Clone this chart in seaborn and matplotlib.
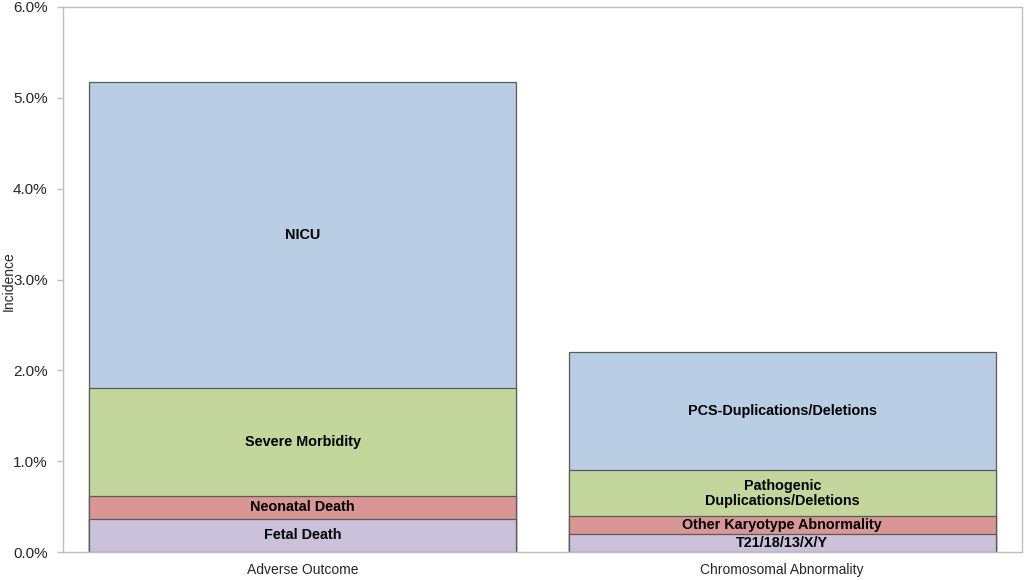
import numpy as np
import pandas as pd
import matplotlib
matplotlib.use("Agg")
import matplotlib.pyplot as plt
from matplotlib.ticker import PercentFormatter, MultipleLocator, FixedLocator
import seaborn as sns

# values (percent)
categories = ["Adverse Outcome", "Chromosomal Abnormality"]
adverse_parts = ["Fetal Death", "Neonatal Death", "Severe Morbidity", "NICU"]
adverse_vals = [0.37, 0.25, 1.19, 3.36]
chromo_parts = ["T21/18/13/X/Y", "Other Karyotype Abnormality",
                "Pathogenic\nDuplications/Deletions", "PCS-Duplications/Deletions"]
chromo_vals = [0.20, 0.20, 0.50, 1.30]

colors = ["#CCC1DA", "#D99694", "#C3D69B", "#B9CDE5"]

sns.set_style("white")
plt.rcParams["font.family"] = ["Liberation Sans", "DejaVu Sans"]

#%%

fig = plt.figure(figsize=(10.24, 5.8), dpi=100)
ax = fig.add_axes([0.0615, 0.048, 0.9365, 0.94])

cum_a = np.cumsum(adverse_vals)
cum_c = np.cumsum(chromo_vals)

# draw tallest stack first, then overlay the lower ones
for i in range(3, -1, -1):
    df = pd.DataFrame({"cat": categories, "val": [cum_a[i], cum_c[i]]})
    sns.barplot(data=df, x="cat", y="val", color=colors[i], width=0.89,
                edgecolor="#5a5a5a", linewidth=0.9, saturation=1, ax=ax)

# segment labels
for xi, (parts, vals, cum) in enumerate([(adverse_parts, adverse_vals, cum_a),
                                         (chromo_parts, chromo_vals, cum_c)]):
    for name, v, c in zip(parts, vals, cum):
        ax.text(xi, c - v / 2, name, ha="center", va="center",
                fontsize=10.4, fontweight="bold", color="black",
                linespacing=1.1)

ax.set_ylim(0, 6)
ax.set_xlim(-0.5, 1.5)
ax.yaxis.set_major_locator(MultipleLocator(1))
ax.yaxis.set_major_formatter(PercentFormatter(decimals=1))
ax.xaxis.set_minor_locator(FixedLocator([-0.5, 0.5, 1.5]))
ax.tick_params(axis="x", which="major", length=0, labelsize=10, pad=8)
ax.tick_params(axis="x", which="minor", length=5, color="#bfbfbf", width=1)
ax.tick_params(axis="y", length=4, color="#bfbfbf", width=1, labelsize=11,
               left=True, pad=7)
for s in ax.spines.values():
    s.set_color("#bfbfbf")
    s.set_linewidth(1)
ax.set_xlabel("")
ax.set_ylabel("")
fig.text(0.002, 0.515, "Incidence", rotation=90, ha="left", va="center",
         fontsize=10)

fig.savefig("out.png", dpi=100)
